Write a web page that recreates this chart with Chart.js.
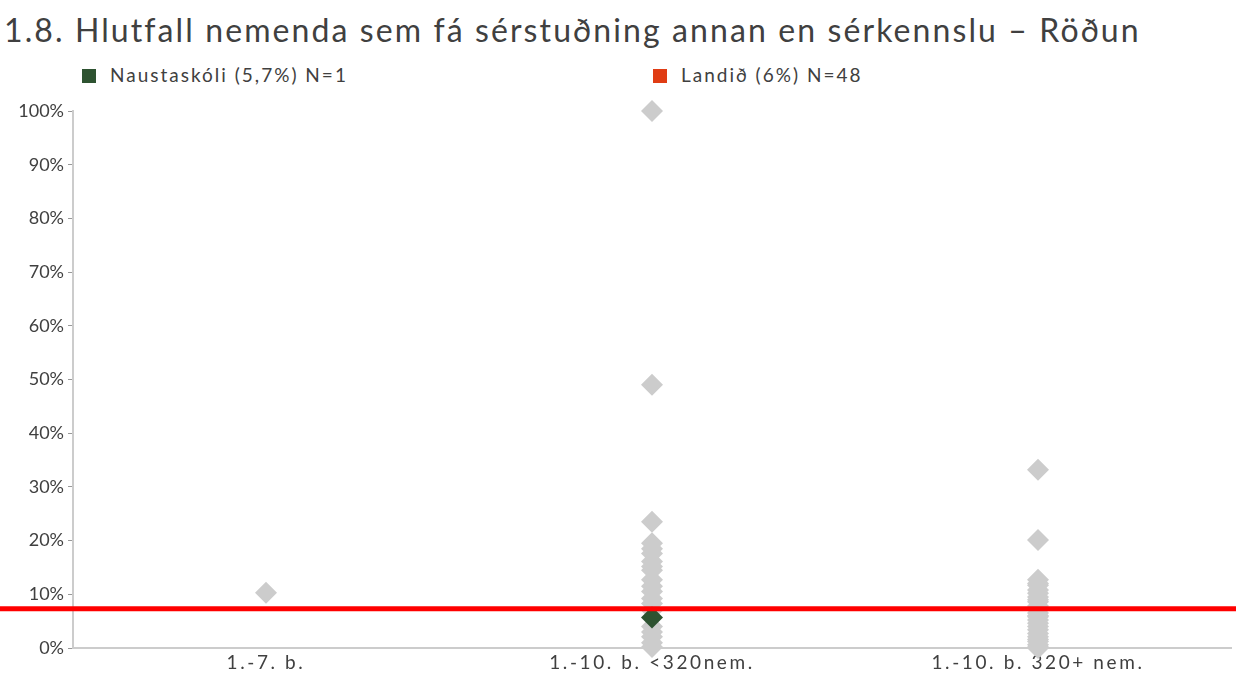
<!DOCTYPE html>
<html>
<head>
<meta charset="utf-8">
<script src="https://cdn.jsdelivr.net/npm/chart.js@4.4.1/dist/chart.umd.min.js"></script>
<style>
  body { margin: 0; background: #fff; }
  #wrap { position: relative; width: 1242px; height: 673px; font-family: Lato, 'Open Sans', sans-serif; color: #404040; }
  #title { position: absolute; left: 4px; top: 10px; font-size: 32px; letter-spacing: 2.1px; white-space: nowrap; }
  .leg { position: absolute; top: 63px; font-size: 19px; letter-spacing: 2px; white-space: nowrap; }
  .leg span { display: inline-block; width: 14px; height: 14px; margin-right: 14px; vertical-align: -1px; }
  canvas { position: absolute; left: 0; top: 0; }
</style>
</head>
<body>
<div id="wrap">
  <div id="title">1.8. Hlutfall nemenda sem fá sérstuðning annan en sérkennslu – Röðun</div>
  <div class="leg" style="left:82px"><span style="background:#2e5331"></span>Naustaskóli (5,7%) N=1</div>
  <div class="leg" style="left:653px"><span style="background:#e03c14"></span>Landið (6%) N=48</div>
  <canvas id="myChart" width="1242" height="673"></canvas>
</div>
<script>
// flokkar (x-ás)
var categories = ['1.-7. b.', '1.-10. b. <320nem.', '1.-10. b. 320+ nem.'];

// aðrir skólar, eftir flokkum (%)
var others1 = [10.3];
var others2 = [100, 49, 23.5, 19.5, 18.5, 17.6, 16.1, 15.2, 14.5, 12.7, 11.5, 10.5, 9.2, 8.3, 7.0, 4.0, 3.0, 2.1, 1.0, 0.2];
var others3 = [33.2, 20.1, 12.7, 12.0, 11.7, 10.8, 10.2, 9.5, 9.0, 8.6, 7.8, 7.1, 6.5, 6.0, 5.8, 5.2, 4.6, 4.0, 3.4, 2.7, 2.1, 1.6, 1.2, 0.6, 0.2, 0.0];

// Naustaskóli
var schoolCat = '1.-10. b. <320nem.';
var schoolValue = 5.7;

// meðaltal landsins (lína)
var landValue = 7.3;

var yTicks = [0, 10, 20, 30, 40, 50, 60, 70, 80, 90, 100];

var othersData = [];
others1.forEach(function (v) { othersData.push({ x: categories[0], y: v }); });
others2.forEach(function (v) { othersData.push({ x: categories[1], y: v }); });
others3.forEach(function (v) { othersData.push({ x: categories[2], y: v }); });

// rauð lína yfir allt
var landLine = {
	id: 'landLine',
	afterDatasetsDraw: function (chart) {
		var y = chart.scales.y.getPixelForValue(landValue);
		var c = chart.ctx;
		c.save();
		c.strokeStyle = '#ff0000';
		c.lineWidth = 5;
		c.beginPath();
		c.moveTo(0, y);
		c.lineTo(chart.width - 6, y);
		c.stroke();
		c.restore();
	},
};

// stafabil á x-ás merkjum
var xSpacing = {
	id: 'xSpacing',
	beforeDraw: function (chart) {
		var xs = chart.scales.x;
		if (xs._spaced) return;
		var orig = xs.drawLabels;
		xs.drawLabels = function (area) {
			var c = this.ctx;
			c.save();
			c.letterSpacing = '2.6px';
			orig.call(this, area);
			c.restore();
		};
		xs._spaced = true;
	},
};

var ctx = document.getElementById('myChart');
var myChart = new Chart(ctx, {
	type: 'line',
	data: {
		labels: categories,
		datasets: [
			{
				label: 'Naustaskóli',
				data: [{ x: schoolCat, y: schoolValue }],
				showLine: false,
				clip: false,
				pointStyle: 'rectRot',
				pointRadius: 11,
				pointBackgroundColor: '#2e5331',
				pointBorderWidth: 0,
			},
			{
				label: 'Aðrir',
				data: othersData,
				showLine: false,
				clip: false,
				pointStyle: 'rectRot',
				pointRadius: 11,
				pointBackgroundColor: '#cccccc',
				pointBorderWidth: 0,
			},
		],
	},
	options: {
		responsive: false,
		animation: false,
		layout: {
			padding: { top: 111, right: 9, left: 0, bottom: 0 },
		},
		plugins: {
			legend: { display: false },
			tooltip: { enabled: false },
		},
		scales: {
			x: {
				type: 'category',
				offset: true,
				grid: { display: false, drawTicks: false },
				border: { color: '#cccccc', width: 2 },
				ticks: {
					color: '#404040',
					padding: 3,
					font: { family: 'Lato', size: 19 },
				},
				afterFit: function (s) { s.height = 25; },
			},
			y: {
				min: 0,
				max: 100,
				afterBuildTicks: function (s) {
					s.ticks = yTicks.map(function (v) { return { value: v }; });
				},
				grid: {
					drawOnChartArea: false,
					color: '#999999',
					tickLength: 5,
				},
				border: { color: '#cccccc', width: 2 },
				ticks: {
					color: '#404040',
					padding: 4,
					font: { family: 'Lato', size: 18 },
					callback: function (v) { return v + '%'; },
				},
				afterFit: function (s) { s.width = 73; },
			},
		},
	},
	plugins: [landLine, xSpacing],
});
</script>
</body>
</html>
